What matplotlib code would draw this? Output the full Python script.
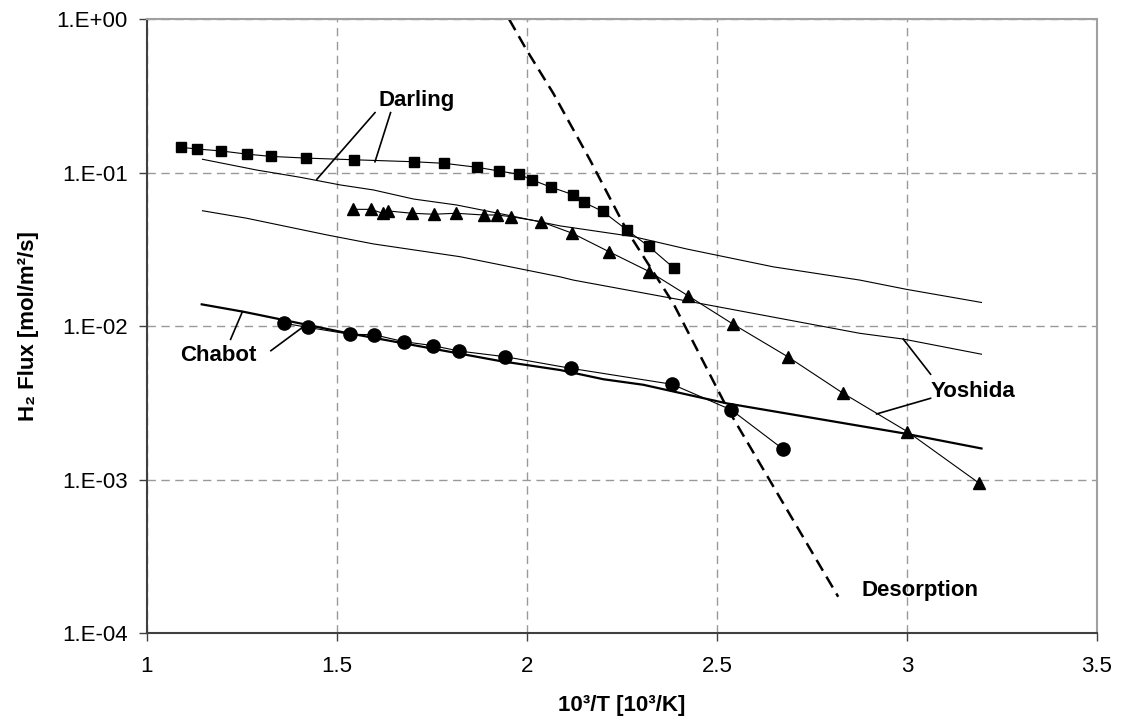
import numpy as np
import matplotlib
matplotlib.use("Agg")
import matplotlib.pyplot as plt
from matplotlib.ticker import NullLocator

plt.rcParams['font.family'] = ['Liberation Sans', 'DejaVu Sans']
plt.rcParams['lines.scale_dashes'] = False

# Darling data (squares)
darling_x = [1.089, 1.132, 1.196, 1.262, 1.326, 1.418, 1.544, 1.703, 1.782, 1.869,
             1.926, 1.980, 2.014, 2.064, 2.122, 2.149, 2.199, 2.263, 2.320, 2.387]
darling_y = [0.1466, 0.1429, 0.1387, 0.1324, 0.1279, 0.1247, 0.1216, 0.118, 0.1153, 0.1086,
             0.1028, 0.0977, 0.0897, 0.0805, 0.0719, 0.0643, 0.0561, 0.0424, 0.0332, 0.0239]

# Yoshida data (triangles)
yoshida_x = [1.543, 1.590, 1.620, 1.635, 1.697, 1.754, 1.813, 1.886, 1.920, 1.958,
             2.037, 2.119, 2.216, 2.322, 2.424, 2.543, 2.686, 2.832, 3.001, 3.190]
yoshida_y = [0.0578, 0.0578, 0.0545, 0.0564, 0.0545, 0.0537, 0.0545, 0.0531, 0.0531, 0.0518,
             0.048, 0.0404, 0.0306, 0.0227, 0.0158, 0.0103, 0.00634, 0.00366, 0.00206, 0.00095]

# Chabot data (circles)
chabot_x = [1.361, 1.423, 1.535, 1.598, 1.676, 1.753, 1.821, 1.942, 2.116, 2.382, 2.538, 2.673]
chabot_y = [0.01047, 0.00984, 0.00887, 0.00881, 0.00794, 0.00748, 0.0069, 0.00634,
            0.00532, 0.00419, 0.00285, 0.00159]

# model curves
darling_fit_x = [1.146, 1.289, 1.403, 1.508, 1.596, 1.701, 1.815, 1.947, 2.087, 2.280,
                 2.420, 2.648, 2.876, 2.999, 3.196]
darling_fit_y = [0.1225, 0.1042, 0.0935, 0.0834, 0.0773, 0.0675, 0.0617, 0.0531, 0.0451, 0.0384,
                 0.0319, 0.0244, 0.0200, 0.0174, 0.0143]

yoshida_fit_x = [1.146, 1.262, 1.473, 1.596, 1.824, 2.087, 2.122, 2.455, 2.876, 2.990, 3.196]
yoshida_fit_y = [0.0566, 0.0506, 0.0394, 0.0344, 0.0284, 0.0210, 0.0200, 0.0141, 0.0090, 0.00826, 0.00658]

chabot_fit_x = [1.144, 1.253, 1.295, 1.508, 1.929, 2.087, 2.201, 2.306, 2.525, 2.990, 3.196]
chabot_fit_y = [0.0139, 0.01245, 0.01186, 0.00923, 0.00594, 0.00519, 0.00452, 0.00416,
                0.00315, 0.00201, 0.0016]

desorp_x = [1.953, 1.999, 2.069, 2.166, 2.262, 2.385, 2.525, 2.819]
desorp_y = [1.0, 0.631, 0.330, 0.121, 0.0424, 0.0141, 0.00299, 0.000173]

xticks = [1, 1.5, 2, 2.5, 3, 3.5]
xtick_labels = ['1', '1.5', '2', '2.5', '3', '3.5']
yticks = [1e-4, 1e-3, 1e-2, 1e-1, 1e0]
ytick_labels = ['1.E-04', '1.E-03', '1.E-02', '1.E-01', '1.E+00']

fig = plt.figure(figsize=(11.26, 7.25), dpi=100)
ax = fig.add_axes([147 / 1126, 1 - 633.3 / 725, 950 / 1126, 614 / 725])

ax.plot(darling_fit_x, darling_fit_y, color='black', lw=0.8)
ax.plot(yoshida_fit_x, yoshida_fit_y, color='black', lw=0.8)
ax.plot(chabot_fit_x, chabot_fit_y, color='black', lw=1.6)
ax.plot(desorp_x, desorp_y, color='black', lw=1.8, linestyle=(0, (9, 5)))

ax.plot(darling_x, darling_y, color='black', lw=0.8, marker='s', ms=7.5)
ax.plot(yoshida_x, yoshida_y, color='black', lw=0.8, marker='^', ms=9)
ax.plot(chabot_x, chabot_y, color='black', lw=0.8, marker='o', ms=9.5)

ax.set_yscale('log')
ax.set_xlim(1, 3.5)
ax.set_ylim(1e-4, 1)
ax.set_xticks(xticks)
ax.set_xticklabels(xtick_labels)
ax.set_yticks(yticks)
ax.set_yticklabels(ytick_labels)
ax.yaxis.set_minor_locator(NullLocator())
ax.tick_params(direction='out', length=6, width=1, labelsize=16, color='#404040')
ax.tick_params(axis='x', pad=10)
ax.tick_params(axis='y', pad=8)

ax.grid(True, color='#999999', lw=1, linestyle=(0, (6, 4)))
ax.set_axisbelow(True)
for s in ['left', 'bottom']:
    ax.spines[s].set_color('#404040')
    ax.spines[s].set_linewidth(1.5)
for s in ['top', 'right']:
    ax.spines[s].set_color('#a0a0a0')
    ax.spines[s].set_linewidth(1.5)

ax.set_xlabel('10³/T [10³/K]', fontsize=16, fontweight='bold')
ax.xaxis.set_label_coords(0.5, -0.117)
ax.xaxis.label.set_va('center')
ax.set_ylabel('H₂ Flux [mol/m²/s]', fontsize=16, fontweight='bold')
ax.yaxis.set_label_coords(-0.125, 0.5)
ax.yaxis.label.set_va('center')

# labels with leader lines
tkw = dict(fontsize=16, fontweight='bold', ha='left', va='center')
ax.text(1.608, 10 ** -0.526, 'Darling', **tkw)
ax.text(1.087, 10 ** -2.187, 'Chabot', **tkw)
ax.text(3.061, 10 ** -2.426, 'Yoshida', **tkw)
ax.text(2.881, 10 ** -3.724, 'Desorption', **tkw)

leaders = [
    ((1.600, -0.608), (1.447, -1.042)),
    ((1.641, -0.608), (1.600, -0.928)),
    ((1.220, -2.085), (1.251, -1.905)),
    ((1.326, -2.159), (1.409, -2.007)),
    ((3.062, -2.312), (2.990, -2.083)),
    ((3.062, -2.469), (2.920, -2.571)),
]
for (x0, l0), (x1, l1) in leaders:
    ax.plot([x0, x1], [10 ** l0, 10 ** l1], color='black', lw=1.2)

fig.savefig('out.png', dpi=100)
